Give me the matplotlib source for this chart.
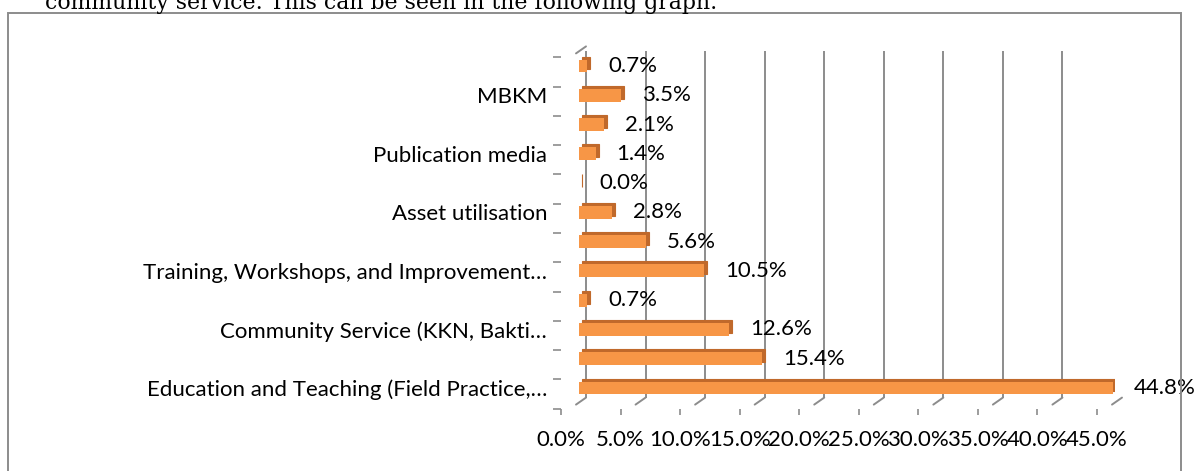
import matplotlib
matplotlib.use("Agg")
import matplotlib.pyplot as plt
import matplotlib.transforms as mtransforms
from matplotlib.patches import ConnectionPatch, Rectangle

plt.rcParams['font.family'] = ['Lato', 'DejaVu Sans']

# data (bottom -> top)
categories = ["Education and Teaching (Field Practice,…", "",
              "Community Service (KKN, Bakti…", "",
              "Training, Workshops, and Improvement…", "",
              "Asset utilisation", "",
              "Publication media", "",
              "MBKM", ""]
values = [44.8, 15.4, 12.6, 0.7, 10.5, 5.6, 2.8, 0.0, 1.4, 2.1, 3.5, 0.7]
value_labels = [f"{v:.1f}%" for v in values]
x_ticks = [0, 5, 10, 15, 20, 25, 30, 35, 40, 45]
x_tick_labels = [f"{t:.1f}%" for t in x_ticks]

W, H = 1199, 471
orange = "#F79646"
dark = "#C0692B"
grid = "#8C8C8C"
fs = 16

fig = plt.figure(figsize=(W / 100, H / 100), dpi=100)

# bar plane (front face of the bars), pixel box
x0, x1, yt, yb = 579, 1115, 51.4, 402.6
ax = fig.add_axes([x0 / W, 1 - yb / H, (x1 - x0) / W, (yb - yt) / H])
ax.set_facecolor("none")
for s in ax.spines.values():
    s.set_visible(False)


def shift(dx, dy):
    # same data coords, moved by pixels (3d depth)
    return ax.transData + mtransforms.ScaledTranslation(dx / 100, -dy / 100, fig.dpi_scale_trans)


floor = shift(-3, 2)
back = shift(7, -5)
pos = list(range(len(values)))

# walls / floor
ax.vlines(x_ticks, -0.5, 11.5, colors=grid, lw=1.4, transform=back, zorder=1)
for t in x_ticks:
    ax.add_artist(ConnectionPatch((t, -0.5), (t, -0.5), coordsA=floor, coordsB=back,
                                  color=grid, lw=1.4, zorder=1))
ax.hlines(-0.5, 0, 45, colors=grid, lw=1.4, transform=floor, zorder=1)
ax.vlines(0, -0.5, 11.5, colors=grid, lw=1.4, transform=floor, zorder=1)
ax.add_artist(ConnectionPatch((0, 11.5), (0, 11.5), coordsA=floor, coordsB=back,
                              color=grid, lw=1.4, zorder=1))

# bars: darker copy behind gives top and end faces
ax.barh(pos, values, height=0.44, color=dark, edgecolor=dark, lw=0.8,
        transform=shift(3, -3), zorder=3)
bars = ax.barh(pos, values, height=0.44, color=orange, zorder=4)
ax.bar_label(bars, labels=value_labels, padding=15, fontsize=fs)

ax.set_xlim(0, 45)
ax.set_ylim(-0.5, 11.5)
ax.set_xticks([])
ax.set_yticks(pos, categories, fontsize=fs)
ax.tick_params(axis='y', length=0, pad=23)

# axis plane (ticks + value axis labels)
ax2 = fig.add_axes([(x0 - 18) / W, 1 - (yb + 6) / H, (x1 - x0) / W, (yb - yt) / H])
ax2.set_facecolor("none")
for s in ax2.spines.values():
    s.set_visible(False)
ax2.set_xlim(0, 45)
ax2.set_ylim(-0.5, 11.5)
ax2.set_xticks(x_ticks, x_tick_labels, fontsize=fs)
ax2.set_yticks([])
ax2.set_yticks([p - 0.5 for p in pos] + [11.5], minor=True)
ax2.tick_params(axis='x', length=4.5, width=1.2, color=grid, pad=11)
ax2.tick_params(axis='y', which='minor', length=5.5, width=1.2, color=grid)

# frame and text of the page around the chart
fig.add_artist(Rectangle((8 / W, -0.1), (1181 - 8) / W, 1.1 - 13 / H,
                         transform=fig.transFigure, fill=False, edgecolor="#8C8C8C", lw=1.4))
fig.text(45 / W, 1 - 9.5 / H, "community service. This can be seen in the following graph.",
         family="DejaVu Serif", fontsize=15.8, va="baseline")

fig.savefig("out.png", dpi=100)
